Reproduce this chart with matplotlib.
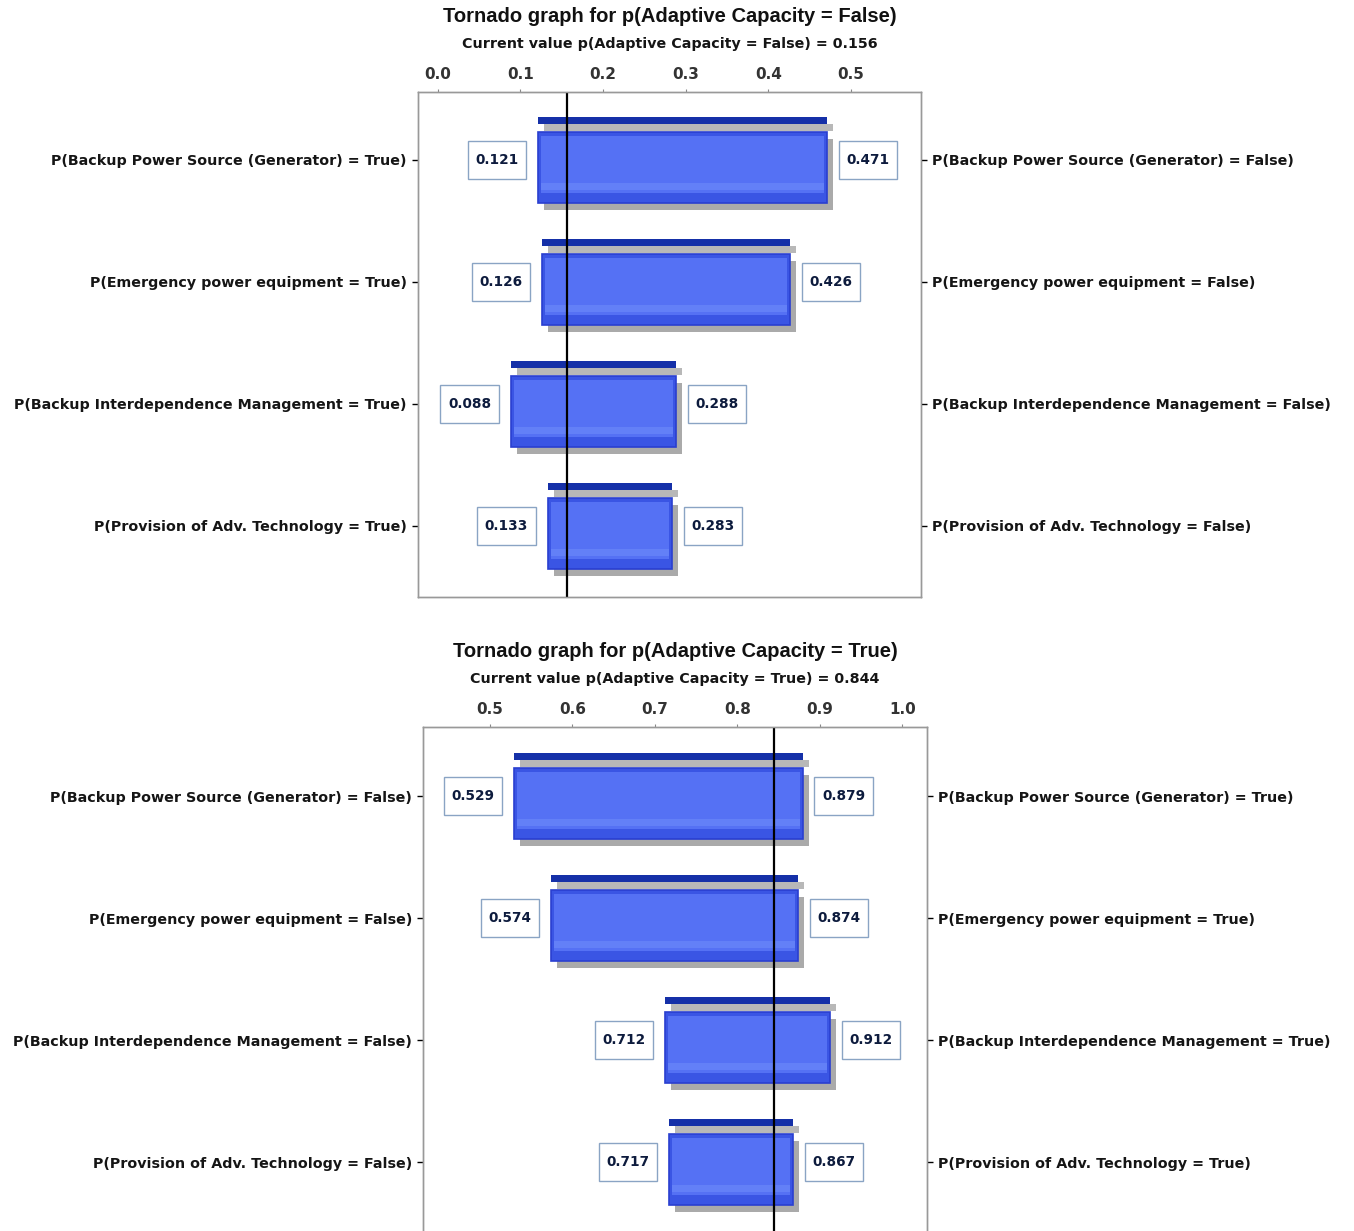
import matplotlib
matplotlib.use("Agg")
import matplotlib.pyplot as plt
from matplotlib.path import Path

plt.rcParams['font.family'] = ['DejaVu Sans']

# data: top chart p(Adaptive Capacity = False)
top_current = 0.156
top_low = [0.121, 0.126, 0.088, 0.133]
top_high = [0.471, 0.426, 0.288, 0.283]
top_left_labels = ["P(Backup Power Source (Generator) = True)",
                   "P(Emergency power equipment = True)",
                   "P(Backup Interdependence Management = True)",
                   "P(Provision of Adv. Technology = True)"]
top_right_labels = ["P(Backup Power Source (Generator) = False)",
                    "P(Emergency power equipment = False)",
                    "P(Backup Interdependence Management = False)",
                    "P(Provision of Adv. Technology = False)"]
top_ticks = [0.0, 0.1, 0.2, 0.3, 0.4, 0.5]

# data: bottom chart p(Adaptive Capacity = True)
bot_current = 0.844
bot_low = [0.529, 0.574, 0.712, 0.717]
bot_high = [0.879, 0.874, 0.912, 0.867]
bot_left_labels = ["P(Backup Power Source (Generator) = False)",
                   "P(Emergency power equipment = False)",
                   "P(Backup Interdependence Management = False)",
                   "P(Provision of Adv. Technology = False)"]
bot_right_labels = ["P(Backup Power Source (Generator) = True)",
                    "P(Emergency power equipment = True)",
                    "P(Backup Interdependence Management = True)",
                    "P(Provision of Adv. Technology = True)"]
bot_ticks = [0.5, 0.6, 0.7, 0.8, 0.9, 1.0]

W, H = 1354, 1231
fig = plt.figure(figsize=(W / 100, H / 100), dpi=100)

LABEL_FS = 10.3
VALUE_FS = 9.8


def value_box(x0, y0, width, height, mutation_size):
    # rectangle with more padding above/below than left/right
    px, py = 0.55 * mutation_size, 0.9 * mutation_size
    x0, y0 = x0 - px, y0 - py
    x1, y1 = x0 + width + 2 * px, y0 + height + 2 * py
    return Path([(x0, y0), (x1, y0), (x1, y1), (x0, y1), (x0, y0)],
                closed=True)


def draw_tornado(rect, low, high, current, left_labels, right_labels,
                 ticks, xlim, ylim, title, subtitle, title_y, sub_y):
    ax = fig.add_axes(rect)
    ax.set_xlim(*xlim)
    ax.set_ylim(*ylim)
    # px -> data conversions
    px_x = (xlim[1] - xlim[0]) / (rect[2] * W)
    px_y = (ylim[0] - ylim[1]) / (rect[3] * H)
    sx, sy = 6 * px_x, 7 * px_y

    rows = list(range(len(low)))
    for i in rows:
        lo, hi = low[i], high[i]
        w = hi - lo
        strip_c, strip_h = -39.5 * px_y, 7 * px_y
        main_c, main_h = 7.5 * px_y, 71 * px_y
        # shadows
        ax.barh(i + strip_c + sy, w, left=lo + sx, height=strip_h,
                color='#b8b8b8', zorder=2)
        ax.barh(i + main_c + sy, w, left=lo + sx, height=main_h,
                color='#aaaaaa', zorder=2)
        # dark strip on top
        ax.barh(i + strip_c, w, left=lo, height=strip_h,
                color='#1530a8', zorder=3)
        # main bar with a little gloss
        ax.barh(i + main_c, w, left=lo, height=main_h,
                color='#3a55e4', edgecolor='#2a3fd0', linewidth=1.2, zorder=3)
        ax.barh(i + main_c - 3 * px_y, w - 6 * px_x, left=lo + 3 * px_x,
                height=main_h - 14 * px_y, color='#5571f4', zorder=4)
        ax.barh(i + main_c + 19 * px_y, w - 6 * px_x, left=lo + 3 * px_x,
                height=7 * px_y, color='#6380f7', zorder=4)

        box = dict(boxstyle=value_box, facecolor='white',
                   edgecolor='#8aa4c4', linewidth=1.0)
        ax.annotate(f"{lo:.3f}", xy=(lo, i), xytext=(-14, 0),
                    textcoords='offset points', ha='right', va='center',
                    fontsize=VALUE_FS, fontweight='bold', color='#0d1b3d',
                    bbox=box, zorder=6)
        ax.annotate(f"{hi:.3f}", xy=(hi, i), xytext=(14, 0),
                    textcoords='offset points', ha='left', va='center',
                    fontsize=VALUE_FS, fontweight='bold', color='#0d1b3d',
                    bbox=box, zorder=6)

    ax.axvline(current, color='black', linewidth=1.6, zorder=5)

    ax.set_yticks(rows)
    ax.set_yticklabels(left_labels, fontsize=LABEL_FS, fontweight='bold',
                       color='#151515')
    ax.tick_params(axis='y', length=4, width=1, direction='out', pad=4)

    ax2 = ax.twinx()
    ax2.set_ylim(*ylim)
    ax2.set_yticks(rows)
    ax2.set_yticklabels(right_labels, fontsize=LABEL_FS, fontweight='bold',
                        color='#151515')
    ax2.tick_params(axis='y', length=4, width=1, direction='out', pad=4)

    ax.xaxis.tick_top()
    ax.set_xticks(ticks)
    ax.set_xticklabels([f"{t:.1f}" for t in ticks], fontsize=11,
                       fontweight='bold', color='#333333')
    ax.tick_params(axis='x', length=2, width=0.8, pad=5, colors='#888888',
                   labelcolor='#333333')
    for a in (ax, ax2):
        for sp in a.spines.values():
            sp.set_color('#999999')
            sp.set_linewidth(1.0)

    cx = rect[0] + rect[2] / 2
    fig.text(cx, 1 - title_y / H, title, ha='center', va='center',
             fontsize=14.5, fontweight='bold', color='#111111',
             family='Liberation Sans')
    fig.text(cx, 1 - sub_y / H, subtitle, ha='center', va='center',
             fontsize=LABEL_FS, fontweight='bold', color='#151515')
    return ax


draw_tornado([418 / W, 1 - 597 / H, 503 / W, 505 / H],
             top_low, top_high, top_current,
             top_left_labels, top_right_labels, top_ticks,
             (-0.024, 0.585), (3.582, -0.557),
             "Tornado graph for p(Adaptive Capacity = False)",
             f"Current value p(Adaptive Capacity = False) = {top_current:.3f}",
             16, 44)

draw_tornado([423 / W, 1 - 1233 / H, 504 / W, 506 / H],
             bot_low, bot_high, bot_current,
             bot_left_labels, bot_right_labels, bot_ticks,
             (0.4187, 1.030), (3.58, -0.566),
             "Tornado graph for p(Adaptive Capacity = True)",
             f"Current value p(Adaptive Capacity = True) = {bot_current:.3f}",
             652, 679)

fig.savefig("out.png", dpi=100)
